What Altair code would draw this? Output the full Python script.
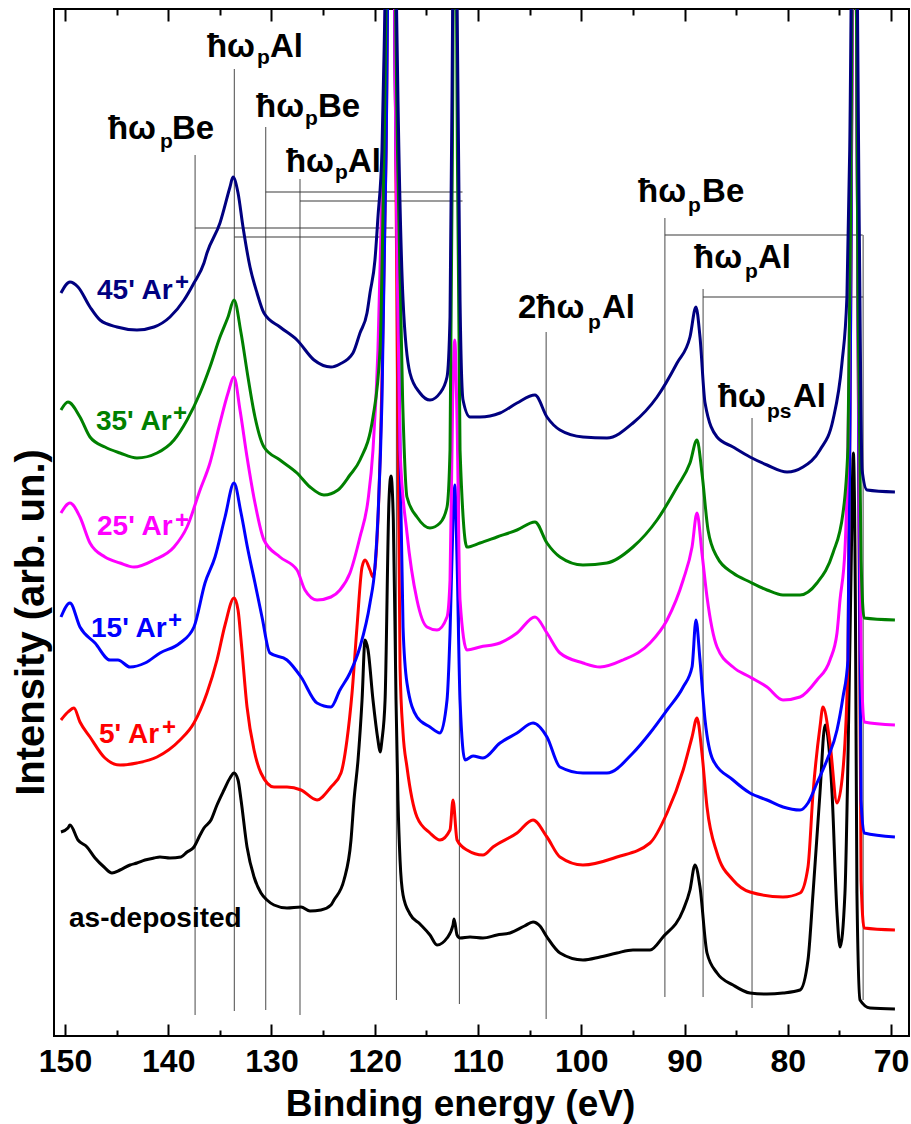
import altair as alt
import pandas as pd

FONT = "Liberation Sans"

# ---------------- spectra: binding energy (eV) / intensity (arb. un.) ----------------
ev_black = [150.39,149.71,149.52,148.74,147.87,147.09,146.22,145.45,144.67,143.70,143.03,142.25,141.38,140.80,139.83,138.77,138.18,137.51,136.92,136.54,135.86,135.28,134.60,134.02,133.63,133.24,132.95,132.37,131.69,131.02,130.44,129.76,128.50,127.14,126.27,125.21,124.24,123.95,122.98,122.30,122.01,121.62,121.23,120.94,120.65,120.17,119.69,119.49,119.30,119.00,118.62,118.43,118.20,117.94,117.75,117.55,117.26,116.59,115.62,114.65,113.97,113.00,112.42,112.32,112.03,111.74,110.77,109.52,108.16,106.90,105.50,104.67,104.00,103.32,102.06,99.83,98.18,96.54,94.99,93.34,92.08,90.13,89.47,88.98,88.50,87.82,86.85,85.30,83.66,82.01,80.46,78.81,78.04,77.55,76.88,76.39,75.71,75.23,74.94,74.46,74.17,73.85,73.65,73.45,73.30,73.00,72.03,69.62]
int_black = [204,208,211,196,189,178,169,163,166,171,173,176,178,179,178,179,184,189,201,208,216,231,246,258,263,256,236,189,159,143,136,131,128,129,125,126,131,136,156,196,236,276,336,396,386,336,296,284,296,336,536,560,516,336,236,176,141,122,112,101,91,98,111,117,101,98,99,98,101,103,110,114,110,99,83,76,79,83,86,86,99,126,146,171,149,83,63,51,43,42,43,46,76,143,243,311,243,123,89,143,276,476,583,436,143,36,28,27]

ev_red = [150.39,149.71,149.13,148.55,147.58,146.13,144.67,143.03,141.09,138.86,137.51,136.25,135.28,134.50,133.63,133.24,132.95,132.37,131.69,131.02,129.76,128.50,127.14,125.59,124.24,123.27,122.69,122.20,121.72,121.23,120.94,120.46,120.17,119.69,119.30,118.90,118.43,118.00,117.55,117.26,116.88,115.91,114.65,113.68,112.71,112.42,112.03,111.07,109.52,108.55,106.22,104.67,103.32,102.06,99.83,96.54,93.34,91.69,90.13,89.27,88.79,88.31,87.82,86.85,85.30,83.66,80.46,78.81,78.04,77.55,76.88,76.59,75.91,75.23,74.65,74.17,73.90,73.55,73.20,72.90,72.60,69.62]
int_red = [316,324,328,314,299,278,271,273,279,296,313,343,376,411,438,426,396,329,286,263,249,249,246,236,249,263,296,343,409,469,476,466,459,516,656,886,1336,936,369,303,269,219,203,196,206,236,196,186,181,189,203,216,199,179,171,179,193,223,266,299,318,283,229,183,156,144,139,143,169,243,309,329,293,233,266,376,736,1336,736,156,108,106]

ev_blue = [150.39,149.52,148.55,147.09,145.64,144.87,143.70,142.25,140.80,138.86,137.51,136.44,135.47,134.50,133.63,132.95,132.28,131.60,130.92,130.15,128.50,127.14,125.59,124.24,123.37,122.40,121.43,120.46,119.98,119.69,119.30,118.90,118.43,118.00,117.55,117.26,116.88,115.91,114.65,113.68,113.00,112.71,112.42,112.25,112.03,111.74,111.26,110.48,109.52,107.87,106.22,104.67,103.32,102.06,99.83,97.51,94.99,93.34,91.69,90.13,89.27,88.89,88.50,88.01,87.24,85.30,83.66,82.01,80.46,78.81,78.04,77.17,76.20,75.23,74.65,74.17,73.90,73.55,73.20,72.90,72.60,69.62]
int_blue = [419,433,409,393,376,376,369,373,383,393,409,453,479,519,553,523,486,453,419,383,376,359,333,329,346,363,389,433,469,519,636,886,1336,936,586,409,353,319,309,303,336,403,516,551,476,336,276,280,278,293,303,313,299,269,263,263,283,303,326,349,369,416,376,316,276,256,243,236,229,226,233,253,276,306,339,376,736,1336,736,236,203,199]

ev_mag = [150.39,149.52,148.55,147.58,146.13,144.67,143.32,141.38,139.44,138.18,136.92,135.96,134.99,134.21,133.63,133.05,132.37,131.60,130.73,129.18,127.53,126.76,125.59,124.24,123.37,122.40,121.43,120.65,120.17,119.69,119.20,118.43,117.90,117.55,116.88,115.91,114.94,113.97,113.00,112.71,112.45,112.25,112.03,111.74,111.07,109.81,107.87,106.22,104.48,103.32,102.06,99.83,98.18,95.96,93.34,91.69,90.13,89.27,88.79,88.31,87.82,86.85,85.30,83.66,82.01,80.46,78.81,77.17,75.91,75.23,74.94,74.46,74.10,73.80,73.55,73.20,72.90,72.60,69.62]
int_mag = [523,533,519,493,479,473,469,476,489,509,546,573,613,643,659,626,579,533,496,479,466,446,436,439,446,463,499,536,586,686,886,1336,836,586,503,436,409,406,419,456,636,696,616,436,386,389,393,403,419,403,383,373,369,376,393,416,456,489,523,483,439,389,369,359,349,336,339,356,376,403,436,486,636,936,1336,736,386,314,311]

ev_green = [150.39,149.71,148.55,147.58,146.13,144.67,143.03,141.09,139.44,138.18,136.92,135.96,134.99,134.21,133.63,132.95,132.28,131.60,130.73,129.18,127.53,126.27,124.92,123.56,122.40,121.43,120.17,119.49,119.10,118.43,117.80,117.30,116.88,115.91,114.65,113.68,113.00,112.71,112.45,112.25,112.03,111.74,111.07,109.81,108.16,106.22,104.48,103.32,102.06,99.83,97.51,94.99,92.66,90.72,89.47,88.79,88.31,87.72,86.85,85.30,83.66,82.01,80.46,78.81,77.17,75.62,74.65,74.17,73.90,73.55,73.20,72.90,72.60,69.62]
int_green = [626,634,619,599,589,583,578,583,596,616,643,669,699,719,736,703,659,619,589,576,563,549,541,546,561,576,619,686,886,1336,886,636,539,519,508,513,529,586,936,1336,936,586,489,493,499,506,514,493,479,471,473,489,516,549,573,596,563,506,479,463,454,446,441,441,453,483,523,589,836,1336,736,476,418,416]

ev_navy = [150.39,149.52,148.74,147.58,146.61,144.96,143.03,141.38,139.83,138.47,137.51,136.54,136.25,134.99,134.02,133.73,133.24,132.76,132.08,131.40,130.73,129.18,127.53,125.88,124.24,123.37,122.11,121.43,120.75,120.46,119.98,119.69,119.30,119.00,118.43,117.90,117.75,117.26,116.59,115.62,114.65,113.68,113.00,112.71,112.45,112.25,112.03,111.74,111.45,110.77,109.81,107.87,106.22,104.48,103.32,102.06,99.83,97.51,94.99,92.66,90.72,89.47,88.89,88.50,88.01,86.85,85.30,83.66,82.01,80.07,78.52,76.88,75.62,74.75,74.27,74.00,73.55,73.10,72.80,72.32,69.62]
int_navy = [743,754,749,729,716,709,706,709,719,736,753,773,783,813,849,859,843,809,769,743,723,709,696,676,669,672,683,703,723,743,776,819,886,1036,1336,1036,936,736,663,643,636,643,659,719,1036,1336,1036,736,636,619,619,623,633,641,619,606,599,598,613,639,673,699,729,699,633,599,589,579,571,564,569,586,616,673,739,886,1336,836,566,546,544]

series = [
    ("as-deposited", "#000000", ev_black, int_black),
    ("5' Ar+", "#FF0000", ev_red, int_red),
    ("15' Ar+", "#0000FF", ev_blue, int_blue),
    ("25' Ar+", "#FF00FF", ev_mag, int_mag),
    ("35' Ar+", "#008000", ev_green, int_green),
    ("45' Ar+", "#000080", ev_navy, int_navy),
]

# ---------------- marker lines ----------------
vl_ev = [137.4, 133.6, 130.56, 127.24, 117.9, 111.8, 103.4, 91.9, 88.2, 83.46, 72.7]
vl_top = [881, 967, 909, 857, 808, 844, 704, 818, 747, 618, 801]
vl_bot = [21, 25, 26, 21, 36, 32, 17, 39, 39, 28, 36]

hl_int = [808, 799, 844, 835, 801, 739]
hl_from = [137.4, 133.6, 130.56, 127.24, 91.9, 88.2]
hl_to = [118.2, 118.0, 111.5, 111.5, 72.75, 72.7]

# ---------------- annotation texts (pieces: main / subscript) ----------------
ann_ev = [145.84, 140.80, 139.64,
          136.25, 131.40, 130.15,
          131.50, 126.76, 125.50,
          128.60, 123.85, 122.59,
          94.50, 89.66, 88.30,
          89.08, 84.14, 82.88,
          106.13, 99.35, 97.99,
          86.76, 82.01, 79.49]
ann_int = [897, 888, 897,
           979, 972, 979,
           919, 911, 919,
           864, 857, 864,
           834, 824, 834,
           768, 758, 768,
           718, 707, 718,
           629, 618, 629]
ann_txt = ["ħω", "p", "Be",
           "ħω", "p", "Al",
           "ħω", "p", "Be",
           "ħω", "p", "Al",
           "ħω", "p", "Be",
           "ħω", "p", "Al",
           "2ħω", "p", "Al",
           "ħω", "ps", "Al"]
ann_size = [33, 21, 33] * 8

# ---------------- sample labels ----------------
lab_ev = [146.90, 139.34, 147.00, 139.54, 146.90, 139.34, 147.48, 140.02, 146.71, 140.61, 149.61]
lab_int = [737, 746, 606, 615, 501, 508, 399, 408, 293, 301, 109]
lab_txt = ["45' Ar", "+", "35' Ar", "+", "25' Ar", "+", "15' Ar", "+", "5' Ar", "+", "as-deposited"]
lab_size = [28, 24, 28, 24, 28, 24, 28, 24, 28, 24, 28]
lab_col = ["#000080", "#000080", "#008000", "#008000", "#FF00FF", "#FF00FF",
           "#0000FF", "#0000FF", "#FF0000", "#FF0000", "#000000"]

major_ticks = [150, 140, 130, 120, 110, 100, 90, 80, 70]
minor_ticks = [145, 135, 125, 115, 105, 95, 85, 75]

W, H = 855, 1027
xs = alt.Scale(domain=[68.257, 151.065], reverse=True, nice=False, zero=False)
ys = alt.Scale(domain=[0, 1027], nice=False, zero=False)
NOAX = None

layers = []

# vertical marker lines
vdf = pd.DataFrame({"e": vl_ev, "t": vl_top, "b": vl_bot})
layers.append(alt.Chart(vdf).mark_rule(color="#5a5a5a", strokeWidth=1.1).encode(
    x=alt.X("e:Q", scale=xs, axis=NOAX),
    y=alt.Y("b:Q", scale=ys, axis=NOAX), y2="t:Q"))

hdf = pd.DataFrame({"a": hl_from, "b": hl_to, "i": hl_int})
layers.append(alt.Chart(hdf).mark_rule(color="#3a3a3a", strokeWidth=1.1).encode(
    x=alt.X("a:Q", scale=xs, axis=NOAX), x2="b:Q",
    y=alt.Y("i:Q", scale=ys, axis=NOAX)))

adf = pd.DataFrame({"e": ann_ev, "i": ann_int, "t": ann_txt, "s": ann_size})
layers.append(alt.Chart(adf).mark_text(align="left", baseline="alphabetic", font=FONT,
                                        fontWeight="bold", color="black").encode(
    x=alt.X("e:Q", scale=xs, axis=NOAX),
    y=alt.Y("i:Q", scale=ys, axis=NOAX),
    text="t:N", size=alt.Size("s:Q", scale=None, legend=None)))

for k, (name, col, ev, iv) in enumerate(series):
    df = pd.DataFrame({"e": ev, "i": iv})
    if k == 0:
        xenc = alt.X("e:Q", scale=xs, axis=alt.Axis(
            orient="bottom", values=major_ticks, ticks=False, tickSize=0, domain=False, grid=False,
            labelFont=FONT, labelFontSize=32, labelFontWeight="bold", labelColor="black",
            labelPadding=10, labelFlush=False, labelOverlap=False, format="d",
            title="Binding energy (eV)", titleFont=FONT, titleFontSize=37, titleFontWeight="bold",
            titleColor="black", titleX=406, titleY=79, titleAlign="center", titleBaseline="alphabetic"))
        yenc = alt.Y("i:Q", scale=ys, axis=alt.Axis(
            ticks=False, labels=False, domain=False, grid=False,
            title="Intensity (arb. un.)", titleFont=FONT, titleFontSize=40, titleFontWeight="bold",
            titleColor="black", titleAngle=270, titleX=-11, titleY=613, titleAlign="center",
            titleBaseline="alphabetic"))
    else:
        xenc = alt.X("e:Q", scale=xs, axis=NOAX)
        yenc = alt.Y("i:Q", scale=ys, axis=NOAX)
    layers.append(alt.Chart(df).mark_line(color=col, strokeWidth=3, clip=True,
                                          interpolate="monotone").encode(x=xenc, y=yenc))

ldf = pd.DataFrame({"e": lab_ev, "i": lab_int, "t": lab_txt, "s": lab_size, "c": lab_col})
layers.append(alt.Chart(ldf).mark_text(align="left", baseline="alphabetic", font=FONT,
                                        fontWeight="bold").encode(
    x=alt.X("e:Q", scale=xs, axis=NOAX),
    y=alt.Y("i:Q", scale=ys, axis=NOAX),
    text="t:N", size=alt.Size("s:Q", scale=None, legend=None),
    color=alt.Color("c:N", scale=None, legend=None)))

# inward tick marks via offset axes
def tick_layer(vals, orient, size):
    d = pd.DataFrame({"e": vals})
    return alt.Chart(d).mark_point(opacity=0).encode(
        x=alt.X("e:Q", scale=xs, axis=alt.Axis(
            orient=orient, values=vals, offset=-size, tickSize=size, tickWidth=2,
            tickColor="black", labels=False, domain=False, grid=False, title=None)),
        y=alt.value(500))

layers.append(tick_layer(major_ticks, "bottom", 12))
layers.append(tick_layer(minor_ticks, "bottom", 6))
layers.append(tick_layer(major_ticks, "top", 12))
layers.append(tick_layer(minor_ticks, "top", 6))

chart = alt.layer(*layers).resolve_axis(x="independent", y="independent").properties(
    width=W, height=H,
    autosize=alt.AutoSizeParams(type="none"),
    padding={"left": 54, "top": 9, "right": 2, "bottom": 88},
    background="white",
).configure_view(stroke="black", strokeWidth=2)

chart.save("out.html", embed_options={"renderer": "svg", "actions": False})
